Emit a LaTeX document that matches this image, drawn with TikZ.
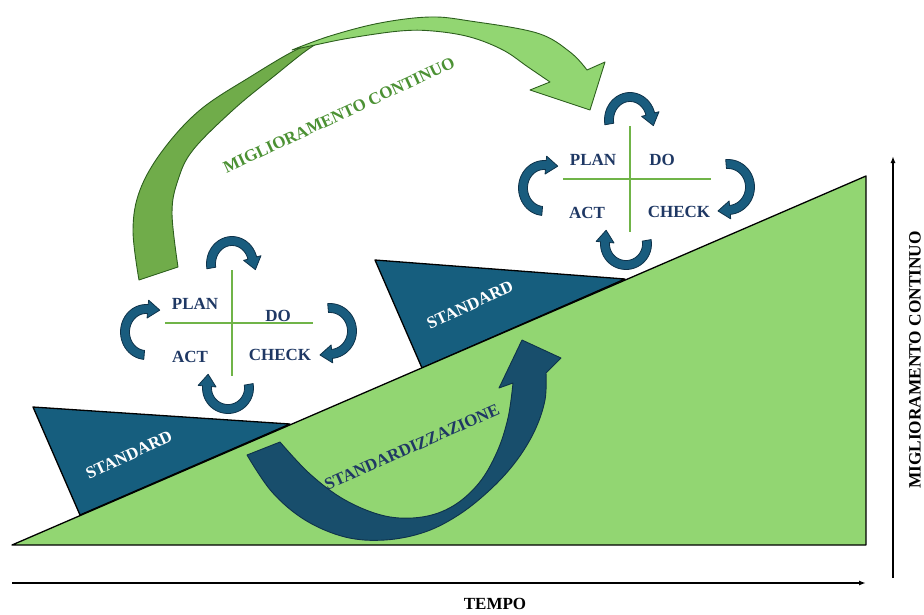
\documentclass[tikz,border=0pt]{standalone}
\usepackage{fontspec}
\setmainfont{Liberation Serif}
\usetikzlibrary{arrows.meta}

\definecolor{slopegreen}{RGB}{146,214,114}
\definecolor{backgreen}{RGB}{112,172,74}
\definecolor{greenline}{RGB}{45,95,30}
\definecolor{greentext}{RGB}{76,145,52}
\definecolor{stdblue}{RGB}{22,94,126}
\definecolor{cycfill}{RGB}{25,92,126}
\definecolor{cycline}{RGB}{14,50,74}
\definecolor{stzblue}{RGB}{24,78,108}
\definecolor{navytext}{RGB}{31,56,100}
\definecolor{crossgreen}{RGB}{112,180,72}

% curved cycle arrow: centre x, centre y, x radius, y radius, start angle, end angle
\newcommand\cycarrow[6]{%
  \fill[cycfill, draw=cycline, line width=0.8pt, line join=round]
    plot[domain=#5:#6, samples=30] ({#1+(#3+4.5)*cos(\x)},{#2+(#4+4.5)*sin(\x)})
    -- ({#1+(#3+9)*cos(#6)},{#2+(#4+9)*sin(#6)})
    -- ({#1+#3*cos(#6)-12*sin(#6)},{#2+#4*sin(#6)+12*cos(#6)})
    -- ({#1+(#3-9)*cos(#6)},{#2+(#4-9)*sin(#6)})
    -- plot[domain=#6:#5, samples=30] ({#1+(#3-4.5)*cos(\x)},{#2+(#4-4.5)*sin(\x)})
    -- cycle;}

% the four arrows around a PDCA cross
\newcommand\pdcaarrows{%
  \cycarrow{232}{264}{21}{23}{170}{345}
  \cycarrow{330}{331}{22}{23}{265}{445}
  \cycarrow{228}{388}{21}{21}{-10}{185}
  \cycarrow{146}{332}{21}{23}{95}{275}}

\begin{document}
\begin{tikzpicture}[x=1pt, y=-1pt,
  lbl/.style={font=\fontsize{17}{17}\selectfont\bfseries, text=navytext, inner sep=0pt},
  stdlbl/.style={font=\fontsize{17}{17}\selectfont\bfseries, text=white, inner sep=0pt, rotate=25},
  wedge/.style={fill=stdblue, draw=black, line width=1.3pt, line join=round},
  crossline/.style={draw=crossgreen, line width=1.3pt},
  axis/.style={draw=black, line width=1.4pt, -{Latex[length=7pt,width=5pt]}}]

\useasboundingbox (0,0) rectangle (924,614);

% standard wedges resting on the slope
\draw[wedge] (33,407) -- (290,424) -- (80,515) -- cycle;
\draw[wedge] (375,260) -- (625,279) -- (422,368) -- cycle;

% the rising slope
\draw[fill=slopegreen, draw=black, line width=1.3pt, line join=round]
  (12,545) -- (866,176) -- (866,545) -- cycle;

\node[stdlbl] (std1) at (129,455) {STANDARD};
\node[stdlbl] (std2) at (470,305) {STANDARD};

% standardisation arrow
\fill[stzblue, draw=cycline, line width=0.9pt, line join=round]
  plot[smooth, tension=0.6] coordinates {(247,455) (272,492) (305,520) (345,537) (385,540) (425,532) (460,514) (492,488) (517,460) (535,430) (545,400) (546,373)}
  -- (561,358) -- (522,340) -- (499,388) -- (513,383)
  -- plot[smooth, tension=0.6] coordinates {(513,383) (508,418) (497,452) (479,483) (453,506) (422,517) (385,516) (345,500) (310,474) (280,442)}
  -- cycle;
\node[font=\fontsize{17}{17}\selectfont\bfseries, text=navytext, inner sep=0pt, rotate=24]
  (stdz) at (412,447) {STANDARDIZZAZIONE};

% continuous improvement arrow: back face, then front band with head
\fill[backgreen, draw=greenline, line width=0.9pt, line join=round]
  plot[smooth, tension=0.6] coordinates {(139,280) (133,230) (140,190) (163,150) (200,110) (250,77) (300,48) (340,35)}
  -- plot[smooth, tension=0.6] coordinates {(340,35) (313,46) (273,77) (233,110) (193,150) (178,180) (172,213) (178,267)}
  -- cycle;
\fill[slopegreen, draw=greenline, line width=0.9pt, line join=round]
  plot[smooth, tension=0.6] coordinates {(292,50) (330,36) (380,23) (430,17) (470,21) (537,33) (570,52) (587,70)}
  -- (605,62) -- (590,110) -- (530,90) -- (550,82)
  -- plot[smooth, tension=0.6] coordinates {(550,82) (528,67) (503,50) (470,37) (433,31) (400,31) (350,38) (315,45) (292,50)}
  -- cycle;
\node[font=\fontsize{17}{17}\selectfont\bfseries, text=greentext, inner sep=0pt, rotate=25]
  (migl) at (339,115) {MIGLIORAMENTO CONTINUO};

% first PDCA cycle
\draw[crossline] (232,270) -- (232,376);
\draw[crossline] (165,323) -- (313,323);
\pdcaarrows
\node[lbl] (plan1) at (195,304) {PLAN};
\node[lbl] (do1) at (278,316) {DO};
\node[lbl] (act1) at (190,357) {ACT};
\node[lbl] (check1) at (280,355) {CHECK};

% second PDCA cycle, one step higher
\begin{scope}[shift={(398,-144)}]
  \draw[crossline] (232,270) -- (232,376);
  \draw[crossline] (165,323) -- (313,323);
  \pdcaarrows
\end{scope}
\node[lbl] (plan2) at (593,160) {PLAN};
\node[lbl] (do2) at (662,160) {DO};
\node[lbl] (act2) at (587,213) {ACT};
\node[lbl] (check2) at (679,212) {CHECK};

% axes
\coordinate (t0) at (12,583);
\coordinate (t1) at (866,583);
\coordinate (m0) at (893,578);
\coordinate (m1) at (893,156);
\draw[axis] (t0) -- (t1);
\draw[axis] (m0) -- (m1);
\node[font=\fontsize{17}{17}\selectfont\bfseries, inner sep=0pt] (tempo) at (495,604) {TEMPO};
\node[font=\fontsize{17.3}{17.3}\selectfont\bfseries, inner sep=0pt, rotate=90] (ylab) at (915,360) {MIGLIORAMENTO CONTINUO};
\end{tikzpicture}
\end{document}
